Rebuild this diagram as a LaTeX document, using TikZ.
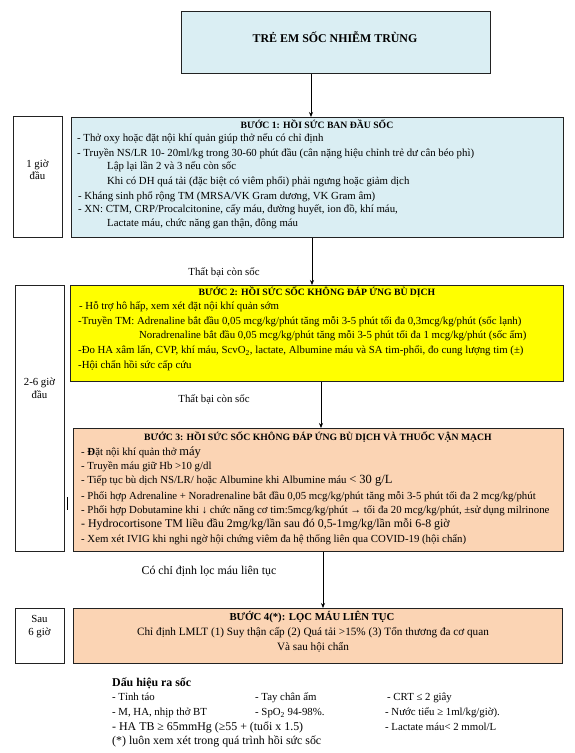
\documentclass[tikz,border=0pt]{standalone}
\usepackage{fontspec}
\setmainfont{Liberation Serif}
\usetikzlibrary{arrows.meta}
\definecolor{lblue}{HTML}{DAEEF3}
\definecolor{peach}{HTML}{FBD4B4}
\definecolor{yel}{HTML}{FFFF00}
\definecolor{edge}{HTML}{222222}
\begin{document}
\begin{tikzpicture}[x=1pt,y=-1pt,
  box/.style={draw=edge, line width=0.9pt, anchor=north west, inner sep=0pt},
  ln/.style={anchor=west, inner sep=0pt, font=\fontsize{10.8}{12}\selectfont, text height=7.5pt, text depth=2.3pt},
  lnc/.style={ln, anchor=center},
  hd/.style={anchor=center, inner sep=0pt, font=\bfseries\fontsize{9.7}{11}\selectfont, text height=7pt, text depth=2pt},
  arr/.style={-{Stealth[length=5pt,width=4pt]}, line width=0.7pt, draw=black},
  big/.style={font=\fontsize{11.9}{13}\selectfont}
]
\useasboundingbox (0,0) rectangle (575,753);
\fill[white] (0,0) rectangle (575,753);

% boxes
\node[box, fill=lblue, minimum width=309pt, minimum height=62pt] (title) at (181,11) {};
\node[box, fill=lblue, minimum width=492pt, minimum height=120pt] (step1) at (71,117) {};
\node[box, fill=white, minimum width=49pt, minimum height=121pt] (left1) at (13,116) {};
\node[box, fill=white, minimum width=49pt, minimum height=266pt] (left2) at (15,285) {};
\node[box, fill=yel, minimum width=493pt, minimum height=96pt] (step2) at (70,285) {};
\node[box, fill=peach, minimum width=490pt, minimum height=123pt] (step3) at (73,428) {};
\node[box, fill=white, minimum width=49pt, minimum height=55pt] (left3) at (15,608) {};
\node[box, fill=peach, minimum width=489pt, minimum height=55pt] (step4) at (73,608) {};

% title
\node[anchor=center, inner sep=0pt, font=\bfseries\fontsize{11.9}{13}\selectfont] (titletext) at (335,37) {TRẺ EM SỐC NHIỄM TRÙNG};

% left labels
\node[lnc] (l1a) at (37.5,165) {1 giờ};
\node[lnc] (l1b) at (37.5,177) {đầu};
\node[lnc] (l2a) at (39.5,383) {2-6 giờ};
\node[lnc] (l2b) at (39.5,396) {đầu};
\node[lnc] (l3a) at (39.5,620) {Sau};
\node[lnc] (l3b) at (39.5,633) {6 giờ};

% step 1
\node[hd] (s1t) at (317,126) {BƯỚC 1: HỒI SỨC BAN ĐẦU SỐC};
\node[ln] (s1a) at (77,139) {- Thở oxy hoặc đặt nội khí quản giúp thở nếu có chỉ định};
\node[ln] (s1b) at (77,154) {- Truyền NS/LR 10- 20ml/kg trong 30-60 phút đầu (cân nặng hiệu chỉnh trẻ dư cân béo phì)};
\node[ln] (s1c) at (107,167) {Lập lại lần 2 và 3 nếu còn sốc};
\node[ln] (s1d) at (107,182) {Khi có DH quá tải (đặc biệt có viêm phổi) phải ngưng hoặc giảm dịch};
\node[ln] (s1e) at (78,197) {- Kháng sinh phổ rộng TM (MRSA/VK Gram dương, VK Gram âm)};
\node[ln] (s1f) at (78,210) {- XN: CTM, CRP/Procalcitonine, cấy máu, đường huyết, ion đồ, khí máu,};
\node[ln] (s1g) at (107,224) {Lactate máu, chức năng gan thận, đông máu};

% step 2
\node[hd] (s2t) at (317,293) {BƯỚC 2: HỒI SỨC SỐC KHÔNG ĐÁP ỨNG BÙ DỊCH};
\node[ln] (s2a) at (79,307) {- Hỗ trợ hô hấp, xem xét đặt nội khí quản sớm};
\node[ln] (s2b) at (78,322) {-Truyền TM: Adrenaline bắt đầu 0,05 mcg/kg/phút tăng mỗi 3-5 phút tối đa 0,3mcg/kg/phút (sốc lạnh)};
\node[ln] (s2c) at (139,336) {Noradrenaline bắt đầu 0,05 mcg/kg/phút tăng mỗi 3-5 phút tối đa 1 mcg/kg/phút (sốc ấm)};
\node[ln] (s2d) at (78,351) {-Đo HA xâm lấn, CVP, khí máu, ScvO\textsubscript{2}, lactate, Albumine máu và SA tim-phổi, đo cung lượng tim (±)};
\node[ln] (s2e) at (78,366) {-Hội chẩn hồi sức cấp cứu};

% step 3
\node[hd] (s3t) at (318,438) {BƯỚC 3: HỒI SỨC SỐC KHÔNG ĐÁP ỨNG BÙ DỊCH VÀ THUỐC VẬN MẠCH};
\node[ln] (s3a) at (81,453) {- \textbf{Đ}ặt nội khí quản thở {\fontsize{12.5}{13}\selectfont máy}};
\node[ln] (s3b) at (81,467) {- Truyền máu giữ Hb >10 g/dl};
\node[ln] (s3c) at (81,481) {- Tiếp tục bù dịch NS/LR/ hoặc Albumine khi Albumine máu {\fontsize{12.5}{13}\selectfont < 30 g/L}};
\node[ln] (s3d) at (81,497) {- Phối hợp Adrenaline + Noradrenaline bắt đầu 0,05 mcg/kg/phút tăng mỗi 3-5 phút tối đa 2 mcg/kg/phút};
\node[ln] (s3e) at (81,511) {- Phối hợp Dobutamine khi ↓ chức năng cơ tim:5mcg/kg/phút → tối đa 20 mcg/kg/phút, ±sử dụng milrinone};
\node[ln, big] (s3f) at (81,525) {- Hydrocortisone TM liều đầu 2mg/kg/lần sau đó 0,5-1mg/kg/lần mỗi 6-8 giờ};
\node[ln] (s3g) at (81,540) {- Xem xét IVIG khi nghi ngờ hội chứng viêm đa hệ thống liên qua COVID-19 (hội chẩn)};

% step 4
\node[hd, font=\bfseries\fontsize{10.7}{12}\selectfont] (s4t) at (312,618) {BƯỚC 4(*): LỌC MÁU LIÊN TỤC};
\node[lnc, font=\fontsize{11.2}{12}\selectfont] (s4a) at (313,633) {Chỉ định LMLT (1) Suy thận cấp (2) Quá tải >15\% (3) Tổn thương đa cơ quan};
\node[lnc, font=\fontsize{11.2}{12}\selectfont] (s4b) at (313,648) {Và sau hội chẩn};

% connectors
\coordinate (x1) at (311,0);
\coordinate (x2) at (312,0);
\coordinate (x3) at (321,0);
\coordinate (x4) at (323,0);
\draw[arr] (title.south -| x1) -- (step1.north -| x1);
\draw[arr] (step1.south -| x2) -- (step2.north -| x2);
\draw[arr] (step2.south -| x3) -- (step3.north -| x3);
\draw[arr] (step3.south -| x4) -- (step4.north -| x4);
\node[lnc] (f1) at (224,273) {Thất bại còn sốc};
\node[lnc] (f2) at (214,400) {Thất bại còn sốc};
\node[lnc, big] (f3) at (209,572) {Có chỉ định lọc máu liên tục};

% stray tick
\coordinate (t1) at (67,497);
\coordinate (t2) at (67,510);
\draw[line width=0.7pt] (t1) -- (t2);

% exit signs
\node[anchor=west, inner sep=0pt, font=\bfseries\fontsize{11.9}{13}\selectfont] (dh) at (112,683) {Dấu hiệu ra sốc};
\node[ln] (e1a) at (112,698) {- Tỉnh táo};
\node[ln] (e1b) at (255,698) {- Tay chân ấm};
\node[ln] (e1c) at (387,698) {- CRT ≤ 2 giây};
\node[ln] (e2a) at (112,713) {- M, HA, nhịp thở BT};
\node[ln] (e2b) at (255,713) {- SpO\textsubscript{2} 94-98\%.};
\node[ln] (e2c) at (385,713) {- Nước tiểu ≥ 1ml/kg/giờ).};
\node[ln, big] (e3a) at (112,728) {- HA TB ≥ 65mmHg (≥55 + (tuổi x 1.5)};
\node[ln] (e3c) at (385,728) {- Lactate máu< 2 mmol/L};
\node[ln, big] (e4a) at (112,742) {(*) luôn xem xét trong quá trình hồi sức sốc};
\end{tikzpicture}
\end{document}
